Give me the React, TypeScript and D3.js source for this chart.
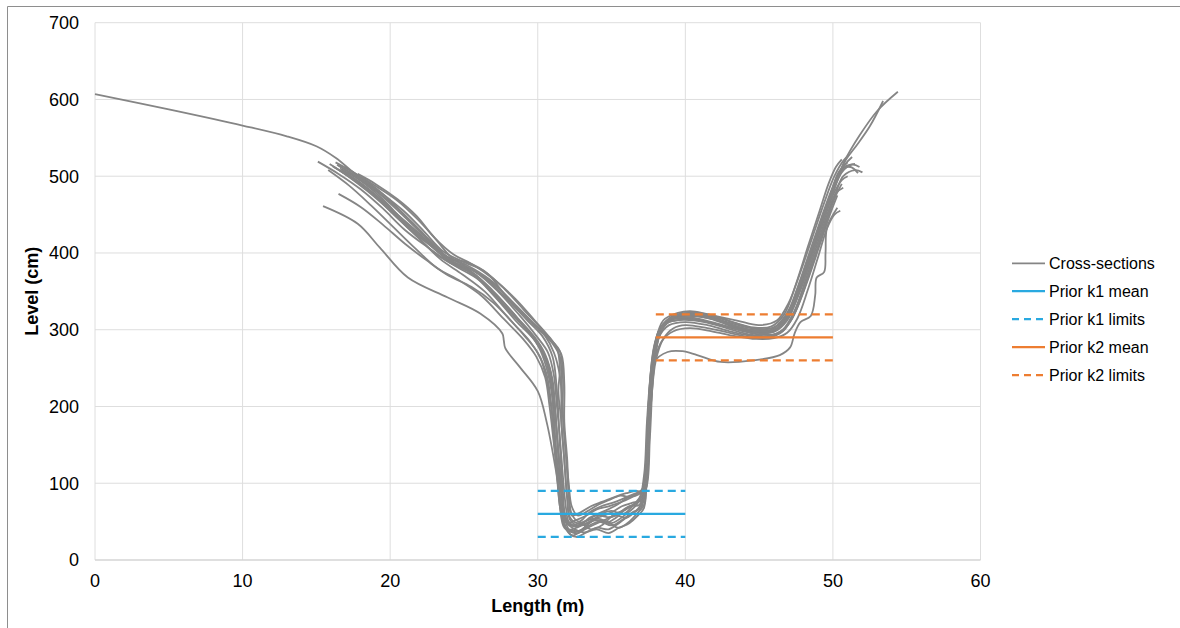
import React, { useEffect, useRef } from "react";
import * as d3 from "d3";

type Pt = [number, number];

const xTicks = [0, 10, 20, 30, 40, 50, 60];
const yTicks = [0, 100, 200, 300, 400, 500, 600, 700];

// cross-section profiles, [length (m), level (cm)]
const cs01: Pt[] = [[0,607],[5,587],[10,566],[13,552],[15,539],[16.3,524],[17.5,505],[19,482],[20.5,458],[22,430],[23.5,400],[25,384],[26.5,366],[28,338],[29.3,312],[30.3,292],[31,265],[31.3,220],[31.5,150],[31.7,90],[31.9,55],[32.4,44],[33.2,50],[34,58],[35,56],[36,68],[36.8,76],[37.2,110],[37.4,180],[37.7,250],[38.2,298],[39,316],[40.2,321],[41.5,318],[43,309],[44.5,302],[46,303],[47,325],[48,370],[49,425],[50,480],[50.8,520],[51.8,553],[53,585],[54.4,610]];
const cs02: Pt[] = [[15.45,461],[17.8,438],[19.3,407],[21.2,368],[23.9,342],[26.1,321],[27.6,295],[27.7,286],[27.8,276],[28.8,251],[30,220],[30.6,180],[31.2,120],[31.6,70],[32,40],[33,45],[34,52],[35,48],[36,60],[36.7,72],[37.2,90],[37.4,150],[37.6,220],[37.9,258],[38.8,271],[39.8,272],[40.8,267],[42.4,258],[44.6,260],[46.4,267],[47.1,277],[47.4,295],[47.8,310],[48.5,318],[48.8,345],[48.9,368],[49.4,375],[49.5,400],[49.6,433],[50.3,459]];
const cs03: Pt[] = [[15.1,519],[16.5,503],[18,483],[19.5,458],[21,430],[22.5,408],[24,388],[25.5,374],[27,345],[28.5,312],[29.8,286],[30.5,262],[30.9,230],[31.1,180],[31.3,120],[31.5,70],[31.8,42],[32.4,36],[33,40],[33.8,52],[34.6,48],[35.3,55],[36.2,70],[36.9,72],[37.3,110],[37.5,190],[37.8,260],[38.3,300],[39,314],[40.5,318],[42,313],[43.5,302],[45,296],[46,298],[46.8,315],[47.6,350],[48.4,395],[49.2,440],[49.9,480],[50.5,508],[51.2,512],[51.7,504]];
const cs04: Pt[] = [[15.9,516],[17,502],[18.5,480],[20,455],[21.5,428],[23,400],[24.5,382],[26,365],[27.5,335],[29,305],[30,280],[30.6,250],[31,210],[31.2,150],[31.4,100],[31.6,60],[31.9,42],[32.8,38],[33.5,48],[34.3,60],[35,64],[35.8,60],[36.5,72],[37,85],[37.4,140],[37.6,220],[38,280],[38.6,308],[39.5,315],[41,312],[42.5,305],[44,300],[45.5,296],[46.5,305],[47.3,330],[48.1,372],[48.9,420],[49.6,462],[50.2,495],[50.8,515],[51.3,525]];
const cs05: Pt[] = [[17.8,503],[19,490],[20.5,470],[21.8,448],[23,420],[24.3,398],[25.5,386],[27,366],[28.5,340],[29.8,312],[30.8,290],[31.3,276],[31.5,250],[31.4,220],[31.6,180],[31.8,130],[32,80],[32.2,52],[32.8,45],[33.5,55],[34.3,62],[35.2,70],[36,80],[36.8,88],[37.2,95],[37.5,150],[37.7,230],[38,285],[38.5,312],[39.5,322],[40.5,324],[42,318],[43.5,312],[45,306],[46.2,312],[47,335],[47.8,375],[48.6,420],[49.4,465],[50.1,500],[50.7,520],[51.1,528]];
const cs06: Pt[] = [[16.5,477],[18,460],[19.5,437],[21,412],[22.5,390],[24,370],[25.5,356],[27,335],[28.5,305],[29.5,284],[30.2,262],[30.6,235],[30.9,200],[31.2,150],[31.5,100],[31.8,60],[32.1,40],[32.7,35],[33.4,44],[34.2,50],[35,45],[35.7,52],[36.4,62],[37,68],[37.3,100],[37.5,170],[37.8,245],[38.2,290],[38.9,306],[40,310],[41.5,306],[43,298],[44.5,292],[45.8,292],[46.7,300],[47.5,325],[48.3,365],[49.1,410],[49.8,450],[50.3,475]];
const cs07: Pt[] = [[16.2,512],[17.5,496],[19,474],[20.5,450],[22,425],[23.5,398],[25,380],[26.5,358],[28,326],[29.3,300],[30.2,278],[30.8,250],[31.1,210],[31.3,160],[31.5,110],[31.7,70],[32,48],[32.6,52],[33.3,58],[34,66],[34.8,70],[35.6,75],[36.4,82],[37,88],[37.3,120],[37.5,200],[37.8,268],[38.3,302],[39.2,318],[40.3,322],[41.8,316],[43.2,306],[44.8,298],[46,300],[47,318],[47.8,352],[48.6,398],[49.4,445],[50.2,490],[50.8,512],[51.5,516]];
const cs08: Pt[] = [[16.6,510],[18,494],[19.5,470],[21,440],[22.5,415],[24,390],[25.5,376],[27,350],[28.5,318],[29.6,292],[30.4,268],[30.9,240],[31.2,190],[31.4,140],[31.7,80],[31.9,50],[32.5,40],[33.2,36],[34,42],[34.8,40],[35.5,48],[36.2,58],[36.8,66],[37.2,80],[37.4,150],[37.6,230],[37.9,280],[38.4,305],[39.3,312],[40.5,314],[42,308],[43.5,300],[45,294],[46.2,295],[47.1,310],[47.9,345],[48.7,390],[49.5,438],[50.2,478],[50.7,500],[51.5,508],[52,505]];
const cs09: Pt[] = [[16.4,515],[17.7,499],[19.2,478],[20.7,452],[22.2,424],[23.7,396],[25.2,384],[26.7,366],[28.2,338],[29.5,312],[30.5,292],[31.1,270],[31.5,240],[31.7,190],[31.9,140],[32.1,90],[32.3,60],[32.8,50],[33.5,62],[34.3,70],[35,74],[35.8,80],[36.5,86],[37,90],[37.4,110],[37.6,180],[37.9,255],[38.3,295],[39,312],[40,318],[41.5,315],[43,306],[44.5,300],[45.8,300],[46.8,318],[47.6,355],[48.4,400],[49.2,445],[49.9,482],[50.5,508],[51,518]];
const cs10: Pt[] = [[16.8,505],[18.2,488],[19.7,463],[21.2,433],[22.7,410],[24.2,386],[25.7,372],[27.2,345],[28.7,314],[29.8,290],[30.5,268],[31,235],[31.2,190],[31.4,140],[31.6,100],[31.8,62],[32.2,45],[32.9,48],[33.6,40],[34.4,46],[35.2,60],[35.9,65],[36.6,74],[37.1,80],[37.4,130],[37.6,210],[37.9,272],[38.4,304],[39.2,314],[40.3,316],[41.8,310],[43.3,302],[44.8,296],[46,297],[46.9,312],[47.7,348],[48.5,392],[49.3,438],[50,475],[50.6,495],[51,500]];
const cs11: Pt[] = [[16.3,518],[17.7,503],[19.2,485],[20.5,468],[21.8,445],[23,420],[24.3,392],[25.2,388],[26.6,373],[27.9,342],[29.1,318],[30.2,298],[31,282],[31.5,265],[31.6,230],[31.6,180],[31.8,130],[32,80],[32.2,55],[32.7,48],[33.4,52],[34.2,56],[35,62],[35.7,70],[36.5,75],[37.1,78],[37.4,120],[37.6,200],[37.9,262],[38.4,300],[39.2,316],[40.4,320],[41.8,317],[43.2,310],[44.6,303],[45.8,304],[46.7,320],[47.5,360],[48.3,408],[49.1,455],[49.7,490],[50.2,512],[50.6,522]];
const cs12: Pt[] = [[16.1,513],[17.4,497],[18.9,475],[20.4,447],[21.9,420],[23.4,392],[24.9,372],[26.4,350],[27.9,318],[29.1,292],[30,270],[30.6,242],[30.9,205],[31.1,155],[31.3,110],[31.5,70],[31.8,45],[32.3,32],[33,38],[33.7,45],[34.5,52],[35.3,58],[36,55],[36.7,65],[37.1,75],[37.3,120],[37.5,200],[37.8,262],[38.2,296],[38.9,310],[39.9,313],[41.3,310],[42.8,302],[44.3,294],[45.6,292],[46.6,300],[47.4,325],[48.2,368],[49,415],[49.7,455],[50.2,478],[50.7,485]];
const cs13: Pt[] = [[16.7,508],[18.1,490],[19.6,466],[21.1,438],[22.6,412],[24.1,390],[25.6,378],[27.1,358],[28.6,330],[29.9,305],[30.9,287],[31.5,272],[31.7,240],[31.7,190],[31.9,140],[32.1,100],[32.3,70],[32.7,58],[33.4,64],[34.1,72],[34.8,78],[35.6,84],[36.3,82],[36.9,88],[37.3,92],[37.6,160],[37.8,235],[38.1,285],[38.7,310],[39.7,320],[40.9,322],[42.3,316],[43.8,306],[45.2,300],[46.3,306],[47.2,330],[48,372],[48.8,418],[49.6,462],[50.3,498],[50.9,522],[51.6,540],[52.5,565],[53.4,598]];
const cs14: Pt[] = [[16.9,512],[18.3,495],[19.8,472],[21.3,443],[22.8,414],[24.3,388],[25.8,375],[27.3,350],[28.8,318],[29.9,292],[30.7,270],[31.1,240],[31.3,200],[31.5,160],[31.7,110],[31.9,70],[32.1,50],[32.6,44],[33.3,48],[34,54],[34.7,50],[35.5,42],[36.2,50],[36.8,62],[37.2,72],[37.4,130],[37.7,210],[38,260],[38.5,288],[39.2,302],[40,306],[41.5,302],[43,296],[44.5,290],[45.7,290],[46.6,298],[47.3,318],[48,352],[48.8,398],[49.6,445],[50.2,475],[50.6,490]];
const cs15: Pt[] = [[16.5,514],[17.9,498],[19.4,478],[20.9,455],[22.2,430],[23.6,402],[25,388],[26.4,376],[27.8,352],[29.1,325],[30.3,300],[31,284],[31.6,268],[31.8,230],[31.8,180],[32,130],[32.1,85],[32.3,58],[32.9,62],[33.6,70],[34.4,76],[35.2,82],[36,87],[36.7,90],[37.2,88],[37.5,140],[37.7,220],[38,275],[38.5,305],[39.3,318],[40.5,320],[41.9,314],[43.4,305],[44.9,298],[46,300],[46.9,315],[47.7,348],[48.5,392],[49.3,440],[50,478],[50.6,505],[51.3,515],[51.8,512]];
const cs16: Pt[] = [[15.8,508],[17.2,488],[18.7,462],[20.2,434],[21.7,406],[23.2,380],[24.7,364],[26.2,344],[27.7,314],[29,288],[29.9,265],[30.5,238],[30.8,200],[31.1,150],[31.4,100],[31.7,60],[32,38],[32.6,30],[33.3,36],[34,40],[34.8,35],[35.5,42],[36.2,48],[36.8,58],[37.2,68],[37.4,120],[37.6,200],[37.9,258],[38.4,285],[39.2,298],[40.3,302],[41.8,298],[43.3,292],[44.8,288],[46,289],[46.9,296],[47.6,315],[48.3,352],[49,395],[49.6,432],[50.1,450],[50.5,455]];

const crossSections = [cs01, cs02, cs03, cs04, cs05, cs06, cs07, cs08, cs09, cs10, cs11, cs12, cs13, cs14, cs15, cs16];

// priors: level (cm) over a length range (m)
const k1Mean = 60;
const k1Limits = [30, 90];
const k1Span = [30, 40];
const k2Mean = 290;
const k2Limits = [260, 320];
const k2Span = [38, 50];

const legendLabels = ["Cross-sections", "Prior k1 mean", "Prior k1 limits", "Prior k2 mean", "Prior k2 limits"];

const GREY = "#858585";
const BLUE = "#29a9e0";
const ORANGE = "#ed7d31";
const FONT = "'Liberation Sans', Arial, sans-serif";

export default function App() {
  const ref = useRef<SVGSVGElement>(null);

  useEffect(() => {
    const svg = d3.select(ref.current);
    svg.selectAll("*").remove();

    const x = d3.scaleLinear().domain([0, 60]).range([95, 980.5]);
    const y = d3.scaleLinear().domain([0, 700]).range([560, 22.7]);

    svg.append("rect").attr("width", 1180).attr("height", 628).attr("fill", "#fff");

    // outer frame (only left and top edges visible)
    svg.append("path")
      .attr("d", "M7.5,628V6.5H1180")
      .attr("fill", "none")
      .attr("stroke", "#8e8e8e")
      .attr("stroke-width", 1);

    // grid
    svg.append("g")
      .selectAll("line")
      .data(xTicks)
      .enter()
      .append("line")
      .attr("x1", d => x(d)).attr("x2", d => x(d))
      .attr("y1", y(700)).attr("y2", y(0))
      .attr("stroke", "#dedede")
      .attr("stroke-width", 1);
    svg.append("g")
      .selectAll("line")
      .data(yTicks.filter(d => d > 0))
      .enter()
      .append("line")
      .attr("x1", x(0)).attr("x2", x(60))
      .attr("y1", d => y(d)).attr("y2", d => y(d))
      .attr("stroke", "#dedede")
      .attr("stroke-width", 1);
    // x axis line
    svg.append("line")
      .attr("x1", x(0)).attr("x2", x(60))
      .attr("y1", y(0)).attr("y2", y(0))
      .attr("stroke", "#d4d4d4")
      .attr("stroke-width", 1.5);

    // tick labels
    svg.append("g")
      .selectAll("text")
      .data(yTicks)
      .enter()
      .append("text")
      .attr("x", 79)
      .attr("y", d => y(d))
      .attr("dy", "0.36em")
      .attr("text-anchor", "end")
      .style("font-family", FONT)
      .style("font-size", "18px")
      .attr("fill", "#000")
      .text(d => d);
    svg.append("g")
      .selectAll("text")
      .data(xTicks)
      .enter()
      .append("text")
      .attr("x", d => x(d))
      .attr("y", 586.5)
      .attr("text-anchor", "middle")
      .style("font-family", FONT)
      .style("font-size", "18px")
      .attr("fill", "#000")
      .text(d => d);

    // axis titles
    svg.append("text")
      .attr("x", (x(0) + x(60)) / 2)
      .attr("y", 612)
      .attr("text-anchor", "middle")
      .style("font-family", FONT)
      .style("font-size", "18px")
      .style("font-weight", "bold")
      .text("Length (m)");
    svg.append("text")
      .attr("transform", "translate(38," + (y(0) + y(700)) / 2 + ") rotate(-90)")
      .attr("text-anchor", "middle")
      .style("font-family", FONT)
      .style("font-size", "18px")
      .style("font-weight", "bold")
      .text("Level (cm)");

    // cross sections
    const line = d3.line<Pt>()
      .x(d => x(d[0]))
      .y(d => y(d[1]))
      .curve(d3.curveCatmullRom.alpha(0.5));
    svg.append("g")
      .selectAll("path")
      .data(crossSections)
      .enter()
      .append("path")
      .attr("d", d => line(d))
      .attr("fill", "none")
      .attr("stroke", GREY)
      .attr("stroke-width", 1.8)
      .attr("stroke-linejoin", "round");

    // prior lines
    const hline = (span: number[], level: number, color: string, dashed: boolean) => {
      svg.append("line")
        .attr("x1", x(span[0])).attr("x2", x(span[1]))
        .attr("y1", y(level)).attr("y2", y(level))
        .attr("stroke", color)
        .attr("stroke-width", 2.25)
        .attr("stroke-dasharray", dashed ? "8,5" : null);
    };
    hline(k1Span, k1Mean, BLUE, false);
    k1Limits.forEach(l => hline(k1Span, l, BLUE, true));
    hline(k2Span, k2Mean, ORANGE, false);
    k2Limits.forEach(l => hline(k2Span, l, ORANGE, true));

    // legend
    const colors = [GREY, BLUE, BLUE, ORANGE, ORANGE];
    const dashed = [false, false, true, false, true];
    const rowY = d3.scaleLinear().domain([0, 4]).range([263.3, 375]);
    const leg = svg.append("g")
      .selectAll("g")
      .data(legendLabels)
      .enter()
      .append("g")
      .attr("transform", (d, i) => "translate(0," + rowY(i) + ")");
    leg.append("line")
      .attr("x1", 1012).attr("x2", 1045)
      .attr("stroke", (d, i) => colors[i])
      .attr("stroke-width", (d, i) => (i === 0 ? 1.8 : 2.25))
      .attr("stroke-dasharray", (d, i) => (dashed[i] ? "7,5" : null));
    leg.append("text")
      .attr("x", 1049)
      .attr("dy", "0.36em")
      .style("font-family", FONT)
      .style("font-size", "16px")
      .attr("fill", "#000")
      .text(d => d);
  }, []);

  return (
    <svg
      ref={ref}
      width={1180}
      height={628}
      style={{ position: "absolute", left: 0, top: 0 }}
    />
  );
}
